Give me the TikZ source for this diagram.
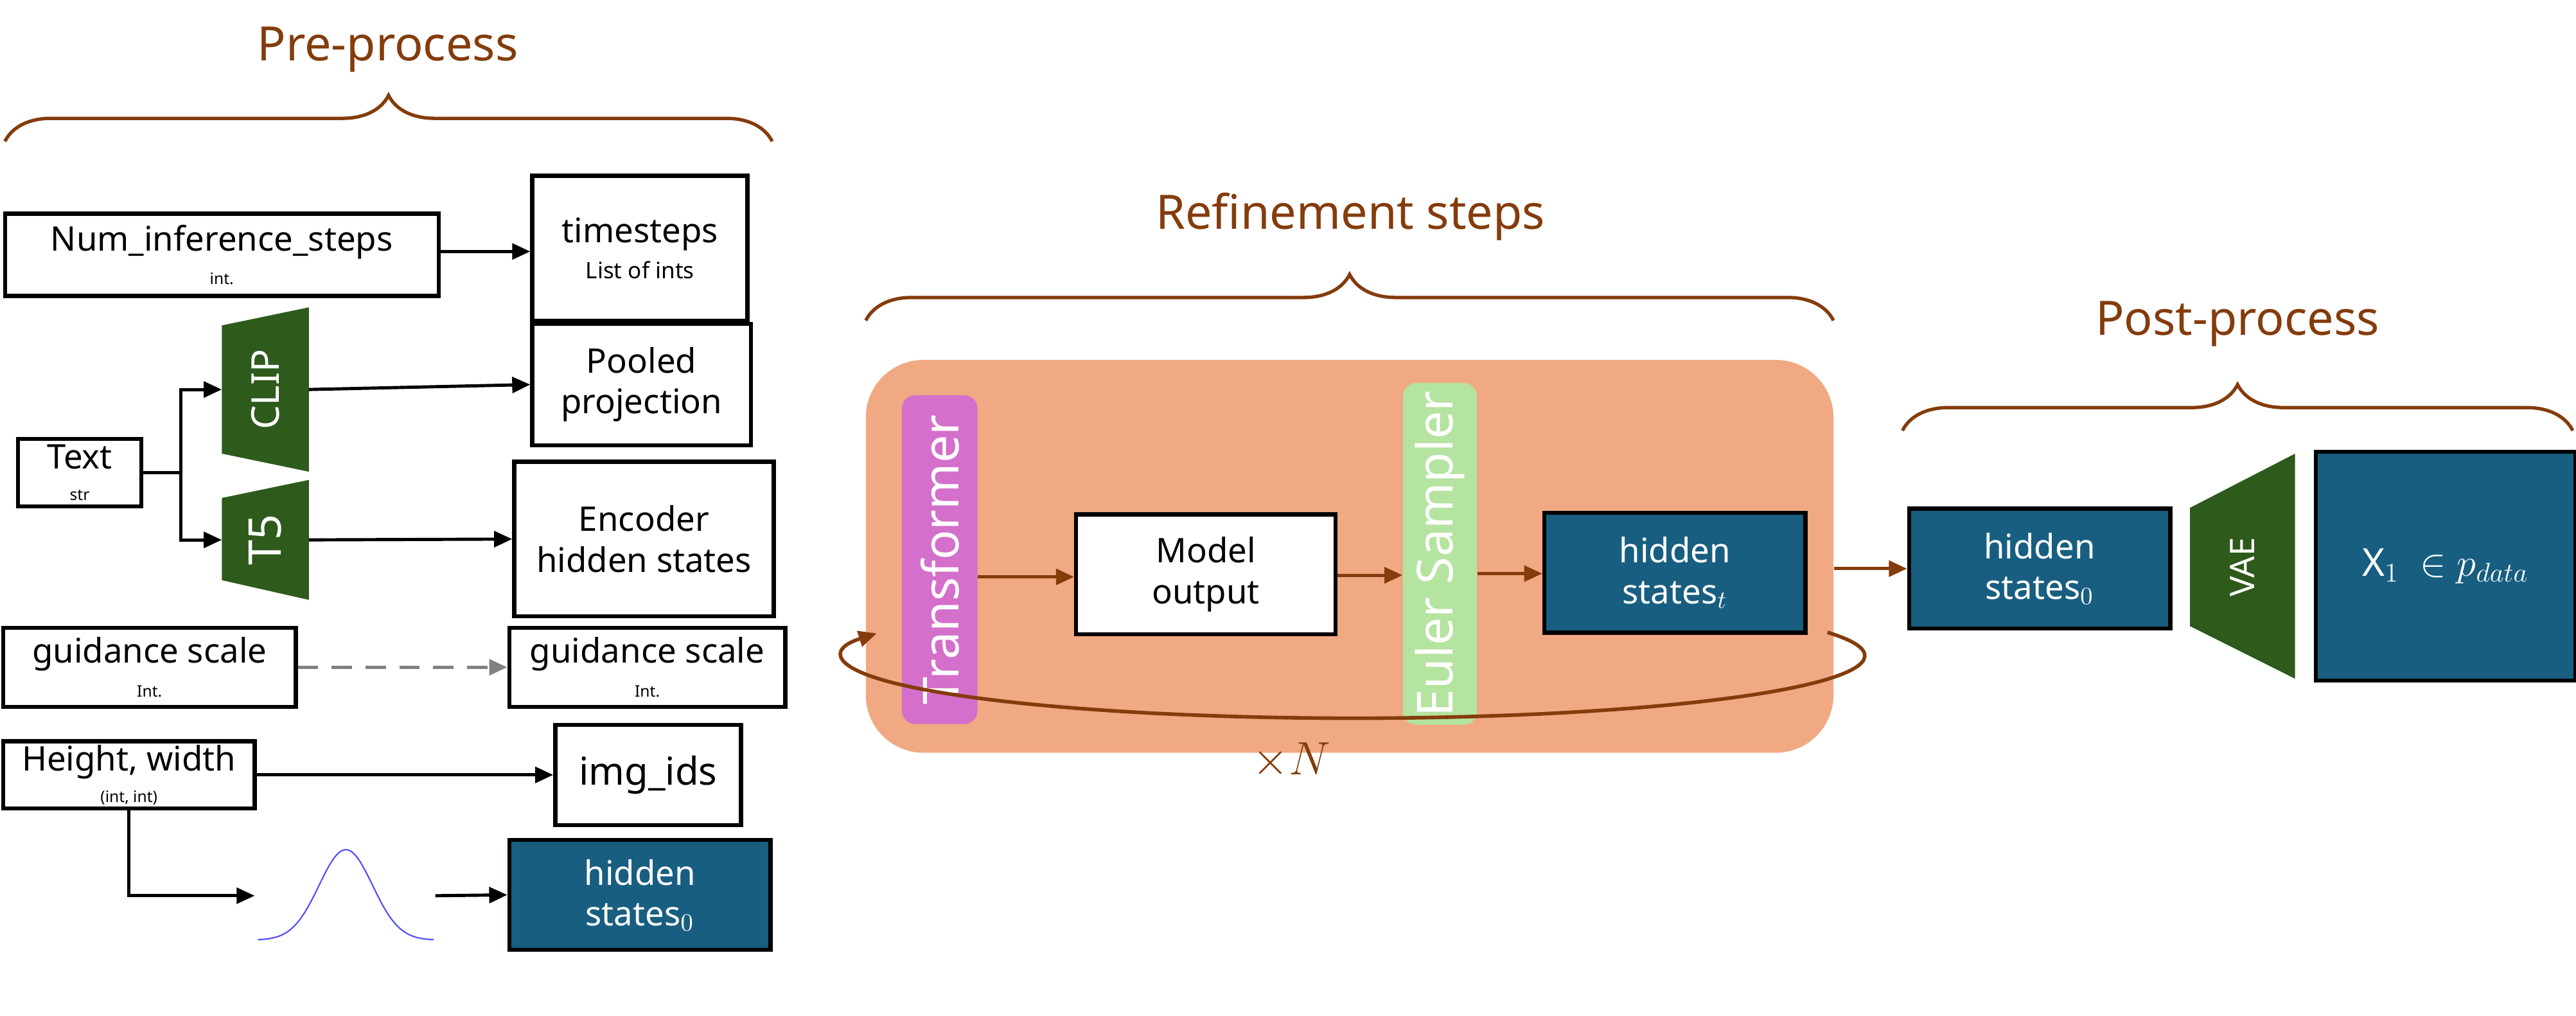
\documentclass[tikz,border=0pt]{standalone}
\usepackage{fontspec}
\setmainfont{Noto Sans}
\usetikzlibrary{arrows.meta,decorations.pathreplacing,calc}
\definecolor{brn}{HTML}{843C0C}
\definecolor{dblue}{HTML}{185E80}
\definecolor{dgreen}{HTML}{2E5A1C}
\definecolor{orng}{HTML}{F1A983}
\definecolor{pink}{HTML}{D46FCB}
\definecolor{lgreen}{HTML}{B5E3A0}
\def\uu{0.02557cm}
\newcommand\smtxt{\fontsize{7}{8}\selectfont}
\begin{document}
\begin{tikzpicture}[x=0.02557cm,y=-0.02557cm,
  box/.style={draw=black,line width=1.8pt,fill=white,align=center,inner sep=0pt,font=\fontsize{15}{18}\selectfont},
  bbox/.style={box,fill=dblue,text=white},
  arr/.style={-{Triangle[length=8pt,width=7pt]},line width=1.4pt},
  barr/.style={arr,draw=brn,color=brn},
  title/.style={text=brn,font=\fontsize{21}{25}\selectfont},
  brc/.style={draw=brn,line width=1.5pt,decorate,decoration={brace,amplitude=28*\uu}},
  trap/.style={fill=dgreen},
  vtxt/.style={text=white,rotate=90,font=\fontsize{17}{20}\selectfont}]
\useasboundingbox (0,0) rectangle (1568,618);
% ---------- Pre-process ----------
\node[title] (pre) at (236,30) {Pre-process};
\draw[brc] (3,86) -- (470,86);
\node[box,minimum width=264*\uu,minimum height=50*\uu] (num) at (135,155) {Num\_inference\_steps\\[-3pt]{\smtxt int.}};
\node[box,minimum width=131*\uu,minimum height=88*\uu] (ts) at (389.5,151) {timesteps\\[-2pt]{\fontsize{10}{12}\selectfont List of ints}};
\draw[arr] (num.east |- 0,153) -- (ts.west |- 0,153);
\node[box,minimum width=75*\uu,minimum height=41*\uu] (text) at (48.5,287.5) {Text\\[-4pt]{\smtxt str}};
\fill[trap] (135,198) -- (188,187) -- (188,287) -- (135,276) -- cycle;
\node[vtxt] (clip) at (161.5,237) {CLIP};
\fill[trap] (135,303) -- (188,292) -- (188,365) -- (135,353) -- cycle;
\node[vtxt,font=\fontsize{20}{24}\selectfont] (t5) at (161.5,328.5) {T5};
\coordinate (clipin) at (135,237);
\coordinate (t5in) at (135,328.5);
\coordinate (clipout) at (188,237);
\coordinate (t5out) at (188,328.5);
\coordinate (br) at (110,287.5);
\draw[line width=1.4pt] (text.east) -- (br);
\draw[arr] (br) |- (clipin);
\draw[arr] (br) |- (t5in);
\node[box,minimum width=133*\uu,minimum height=74*\uu] (pool) at (390.5,234) {Pooled\\projection};
\node[box,minimum width=158*\uu,minimum height=94*\uu] (enc) at (392,328) {Encoder\\hidden states};
\draw[arr] (clipout) -- (pool.west);
\draw[arr] (t5out) -- (enc.west);
\node[box,minimum width=178*\uu,minimum height=48*\uu] (gs1) at (91,406) {guidance scale\\[-3pt]{\smtxt Int.}};
\node[box,minimum width=168*\uu,minimum height=48*\uu] (gs2) at (394,406) {guidance scale\\[-3pt]{\smtxt Int.}};
\draw[arr,draw=gray,color=gray,dash pattern=on 9pt off 6pt] (gs1.east) -- (gs2.west);
\node[box,minimum width=153*\uu,minimum height=41*\uu] (hw) at (78.5,471.5) {Height, width\\[-4pt]{\smtxt (int, int)}};
\node[box,minimum width=113*\uu,minimum height=61*\uu,font=\fontsize{17}{20}\selectfont] (img) at (394.5,471.5) {img\_ids};
\draw[arr] (hw.east) -- (img.west);
\node[bbox,minimum width=159*\uu,minimum height=67*\uu] (hs0a) at (389.5,544.5) {hidden\\states$_0$};
\coordinate (gin) at (155,545);
\coordinate (gout) at (265,545);
\draw[arr] (hw.south) |- (gin);
\draw[blue!70!white,line width=0.6pt,smooth,samples=60,domain=157:264] plot (\x,{572-55*exp(-((\x-210.5)/23)^2)});
\draw[arr] (gout) -- (hs0a.west);
% ---------- Refinement ----------
\node[title] (ref) at (822,132) {Refinement steps};
\draw[brc] (527,195) -- (1116,195);
\node[fill=orng,rounded corners=35*\uu,minimum width=589*\uu,minimum height=239*\uu,inner sep=0pt] (orange) at (821.5,338.5) {};
\node[fill=pink,rounded corners=8*\uu,minimum width=46*\uu,minimum height=200*\uu,inner sep=0pt] (tr) at (572,340.5) {};
\node[vtxt,font=\fontsize{22}{25}\selectfont] at (tr) {Transformer};
\node[fill=lgreen,rounded corners=8*\uu,minimum width=45*\uu,minimum height=208*\uu,inner sep=0pt] (eu) at (876.5,337) {};
\node[vtxt,font=\fontsize{22}{25}\selectfont] at (eu) {Euler Sampler};
\node[box,minimum width=158*\uu,minimum height=73*\uu] (mo) at (734,349.5) {Model\\output};
\node[bbox,minimum width=159*\uu,minimum height=73*\uu] (hst) at (1019.5,348.5) {hidden\\states$_t$};
\draw[barr] (tr.east |- 0,351) -- (mo.west |- 0,351);
\draw[barr] (mo.east |- 0,350) -- (eu.west |- 0,350);
\draw[barr] (eu.east |- 0,349) -- (hst.west |- 0,349);
\draw[barr,line width=1.6pt] ($(824,399)+({311*cos(-22)},{38*sin(-22)})$) arc[start angle=-22,end angle=201,x radius=311,y radius=38];
\node[text=brn,font=\fontsize{20}{24}\selectfont] (xn) at (786,463) {$\times N$};
% ---------- Post-process ----------
\node[title] (post) at (1362,197) {Post-process};
\draw[brc] (1158,262) -- (1566,262);
\node[bbox,minimum width=159*\uu,minimum height=73*\uu] (hs0b) at (1241.5,346) {hidden\\states$_0$};
\draw[barr] (orange.east |- hs0b) -- (hs0b.west);
\fill[trap] (1333,309) -- (1397,276) -- (1397,413) -- (1333,381) -- cycle;
\node[vtxt,font=\fontsize{15}{18}\selectfont] (vae) at (1365,345) {VAE};
\node[bbox,minimum width=158*\uu,minimum height=139*\uu,font=\fontsize{17}{20}\selectfont] (x1) at (1488.5,344.5) {$\mathrm{X}_1\ \in p_{data}$};
\end{tikzpicture}
\end{document}
